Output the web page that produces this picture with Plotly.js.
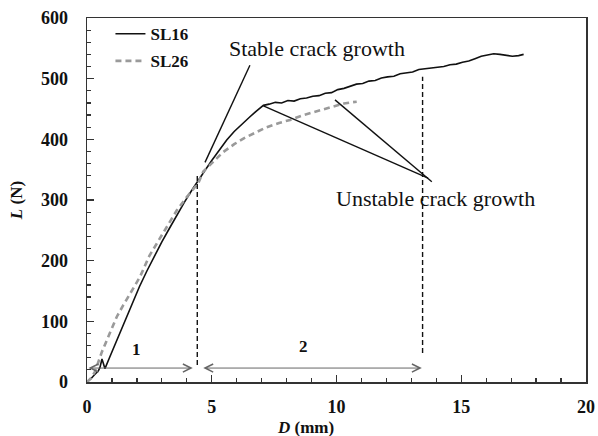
<!DOCTYPE html>
<html>
<head>
<meta charset="utf-8">
<script src="https://cdn.plot.ly/plotly-3.0.1.min.js"></script>
<style>html,body{margin:0;padding:0;background:#fff;}#chart{width:598px;height:436px;}</style>
</head>
<body>
<div id="chart"></div>
<script>
// ---- Data ----
const seriesNames = ["SL16", "SL26"];

const sl16_D = [0, 0.15, 0.3, 0.45, 0.52, 0.6, 0.66, 0.72, 0.9, 1.2, 1.5, 1.8, 2.1, 2.4, 2.7, 3.0, 3.3, 3.6, 3.9, 4.2, 4.46, 4.7, 5.0, 5.3, 5.6, 5.9, 6.2, 6.5, 6.8, 7.07,
  7.3, 7.55, 7.8, 8.05, 8.3, 8.55, 8.8, 9.05, 9.3, 9.55, 9.8, 10.05, 10.3, 10.55, 10.8, 11.05, 11.3, 11.55, 11.8, 12.05, 12.3, 12.55, 12.8, 13.05, 13.3, 13.55, 13.8, 14.05, 14.3, 14.55, 14.8, 15.05, 15.3, 15.55, 15.8, 16.05, 16.3, 16.55, 16.8, 17.05, 17.3, 17.5];
const sl16_L = [0, 5, 12, 18, 24, 38, 30, 22, 40, 70, 100, 130, 157, 183, 208, 231, 253, 275, 296, 316, 333, 347, 365, 383, 399, 413, 425, 436, 447, 456,
  458, 461, 460, 464, 463, 467, 468, 471, 472, 476, 477, 482, 484, 487, 491, 492, 496, 497, 501, 503, 504, 508, 510, 511, 515, 516, 517, 519, 520, 523, 524, 527, 529, 533, 537, 539, 541, 540, 538, 537, 538, 540];

const sl26_D = [0, 0.15, 0.32, 0.6, 0.92, 1.2, 1.46, 1.8, 2.12, 2.5, 2.99, 3.3, 3.6, 4.0, 4.46, 4.66, 5.0, 5.46, 5.9, 6.3, 6.8, 7.2, 7.7, 8.14, 8.6, 9.0, 9.47, 9.9, 10.3, 10.6, 10.81];
const sl26_L = [0, 6, 17, 50, 81, 108, 127, 152, 173, 208, 242, 263, 283, 305, 328, 347, 360, 379, 392, 402, 412, 420, 427, 432, 439, 444, 449, 454, 459, 461, 462];

// Region limits (dashed markers) and region labels
const regionBounds = [4.42, 13.45];
const regionBoundLow = [28, 48];
const regionBoundHigh = [341, 503];
const regionArrowStart = [0, 4.6];
const regionArrowEnd = [4.24, 13.42];
const regionArrowL = 23;
const regionLabels = ["1", "2"];
const regionLabelD = [2.0, 8.66];
const regionLabelL = [53, 58];

// Callout texts and pointer lines
const stableText = "Stable crack growth";
const stablePos = [9.22, 550];
const stablePointer = [[6.53, 522], [4.73, 362]];
const unstableText = "Unstable crack growth";
const unstablePos = [13.97, 303];
const unstablePointers = [[[7.07, 455], [13.67, 336]], [[9.94, 465], [13.82, 330]]];

const xTicks = [0, 5, 10, 15, 20];
const xTickLabels = ["0", "5", "10", "15", "20"];
const yTicks = [0, 100, 200, 300, 400, 500, 600];
const yTickLabels = ["0", "100", "200", "300", "400", "500", "600"];
const xTitle = "<i>D</i> (mm)";
const yTitle = "<i>L</i> (N)";

// ---- Chart ----
const SERIF = "Liberation Serif, Times New Roman, serif";
const bold = s => "<b>" + s + "</b>";
const traces = [
  {x: sl16_D, y: sl16_L, name: bold(seriesNames[0]), mode: "lines", legendgroup: "a",
   line: {color: "#111", width: 1.6}},
  {x: sl26_D, y: sl26_L, name: bold(seriesNames[1]), mode: "lines", legendgroup: "b",
   line: {color: "#9a9a9a", width: 2.6, dash: "6px,4px"}}
];

const shapes = [];
regionBounds.forEach((d, i) => {
  shapes.push({type: "line", xref: "x", yref: "y", x0: d, x1: d, y0: regionBoundLow[i], y1: regionBoundHigh[i],
    line: {color: "#111", width: 1.4, dash: "5px,3px"}});
});
shapes.push({type: "line", xref: "x", yref: "y", x0: stablePointer[0][0], y0: stablePointer[0][1],
  x1: stablePointer[1][0], y1: stablePointer[1][1], line: {color: "#111", width: 1.4}});
unstablePointers.forEach(p => {
  shapes.push({type: "line", xref: "x", yref: "y", x0: p[0][0], y0: p[0][1], x1: p[1][0], y1: p[1][1],
    line: {color: "#111", width: 1.4}});
});

const annotations = [];
regionArrowStart.forEach((d, i) => {
  annotations.push({x: regionArrowEnd[i], y: regionArrowL, ax: d, ay: regionArrowL, xref: "x", yref: "y",
    axref: "x", ayref: "y", text: "", showarrow: true, arrowside: "end+start",
    arrowhead: 5, startarrowhead: 5, arrowsize: 1.6, startarrowsize: 1.6, arrowwidth: 1, arrowcolor: "#666",
    standoff: 0, startstandoff: 0});
  annotations.push({x: regionLabelD[i], y: regionLabelL[i], xref: "x", yref: "y", text: bold(regionLabels[i]),
    showarrow: false, font: {family: SERIF, size: 17, weight: "bold", color: "#111"}});
});
annotations.push({x: stablePos[0], y: stablePos[1], xref: "x", yref: "y", text: stableText, showarrow: false,
  font: {family: SERIF, size: 22, color: "#111"}});
annotations.push({x: unstablePos[0], y: unstablePos[1], xref: "x", yref: "y", text: unstableText, showarrow: false,
  font: {family: SERIF, size: 22, color: "#111"}});
// x-axis title (placed off-centre as in the reference)
annotations.push({x: 0.437, y: -0.124, xref: "paper", yref: "paper", xanchor: "center", yanchor: "middle",
  text: bold(xTitle), showarrow: false, font: {family: SERIF, size: 17, weight: "bold", color: "#111"}});

const layout = {
  width: 598, height: 436,
  margin: {l: 87, r: 12, t: 18, b: 54, pad: 0},
  paper_bgcolor: "#fff", plot_bgcolor: "#fff",
  showlegend: true,
  legend: {x: 0.047, y: 1.005, xanchor: "left", yanchor: "top", bgcolor: "rgba(0,0,0,0)",
    tracegroupgap: 2, font: {family: SERIF, size: 17, weight: "bold", color: "#111"}},
  xaxis: {range: [0, 20], tickvals: xTicks, ticktext: xTickLabels.map(bold), ticks: "inside", ticklen: 7, tickwidth: 1.2, tickcolor: "#333",
    minor: {dtick: 1, ticks: "inside", ticklen: 4, tickwidth: 1.2, tickcolor: "#333", showgrid: false},
    showgrid: false, zeroline: false, showline: true, mirror: true, linecolor: "#333", linewidth: 1.5,
    ticklabelstandoff: 8,
    tickfont: {family: SERIF, size: 18, weight: "bold", color: "#111"}},
  yaxis: {range: [0, 600], tickvals: yTicks, ticktext: yTickLabels.map(bold), ticks: "inside", ticklen: 7, tickwidth: 1.2, tickcolor: "#333",
    minor: {dtick: 20, ticks: "inside", ticklen: 4, tickwidth: 1.2, tickcolor: "#333", showgrid: false},
    showgrid: false, zeroline: false, showline: true, mirror: true, linecolor: "#333", linewidth: 1.5,
    ticklabelstandoff: 14,
    tickfont: {family: SERIF, size: 18, weight: "bold", color: "#111"},
    title: {text: bold(yTitle), standoff: 14, font: {family: SERIF, size: 17, weight: "bold", color: "#111"}}},
  shapes: shapes,
  annotations: annotations
};

Plotly.newPlot("chart", traces, layout, {displayModeBar: false, staticPlot: true});
</script>
</body>
</html>
